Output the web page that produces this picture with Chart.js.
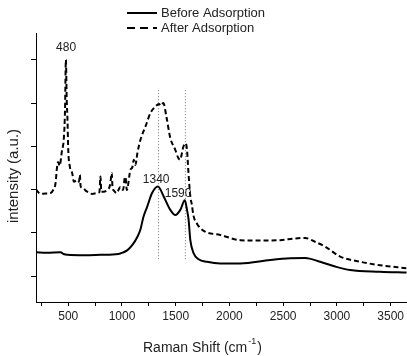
<!DOCTYPE html>
<html>
<head>
<meta charset="utf-8">
<script src="https://cdn.jsdelivr.net/npm/chart.js@4"></script>
<style>
html, body { margin: 0; padding: 0; background: #fff; }
canvas { display: block; }
</style>
</head>
<body>
<canvas id="ramanChart" width="407" height="356"></canvas>
<script>
// Raman spectra (intensity in arbitrary units)
var beforeShift = [200, 300, 430, 456, 493, 650, 800, 967, 1005, 1051, 1097, 1144, 1171, 1200, 1234, 1280, 1335, 1388, 1450, 1497,
    1543, 1585, 1605, 1620, 1636, 1666, 1713, 1791, 1915, 2100, 2380, 2565, 2705, 2844, 2984, 3123, 3402, 3650];
var beforeIntensity = [0.55, 0.54, 0.55, 0.51, 0.49, 0.48, 0.49, 0.51, 0.54, 0.60, 0.72, 0.91, 1.07, 1.37, 1.60, 1.92, 2.07, 1.84, 1.53, 1.41,
    1.53, 1.75, 1.53, 1.30, 0.83, 0.53, 0.39, 0.33, 0.29, 0.29, 0.37, 0.41, 0.42, 0.33, 0.22, 0.14, 0.10, 0.08];

var afterShift = [200, 243, 290, 336, 360, 382, 395, 405, 420, 440, 460, 470, 478, 486, 493, 500, 515, 537, 552, 584,
    600, 608, 615, 630, 676, 723, 769, 790, 800, 808, 830, 860, 890, 905, 912, 920, 950, 985, 1010, 1028,
    1034, 1045, 1078, 1097, 1110, 1125, 1144, 1172, 1219, 1265, 1311, 1345, 1360, 1385, 1413, 1450, 1496, 1524, 1540, 1571,
    1592, 1605, 1617, 1636, 1651, 1664, 1701, 1757, 1915, 2101, 2287, 2473, 2612, 2705, 2798, 2891, 3030, 3216, 3402, 3650];
var afterIntensity = [2.00, 1.90, 1.91, 1.92, 1.99, 2.15, 2.50, 2.64, 2.55, 2.87, 3.22, 3.84, 5.00, 4.07, 3.61, 2.92, 2.53, 2.38, 2.18, 2.22,
    2.18, 2.34, 2.08, 2.04, 1.95, 1.90, 1.92, 1.94, 2.30, 1.95, 1.95, 1.99, 2.11, 2.38, 2.04, 1.99, 1.92, 2.06, 1.99, 2.29,
    2.27, 1.99, 2.45, 2.52, 2.69, 2.57, 2.85, 3.15, 3.46, 3.77, 3.92, 3.98, 3.94, 4.00, 3.69, 3.19, 2.92, 2.73, 2.69, 2.99,
    3.07, 2.92, 2.45, 1.84, 1.64, 1.41, 1.20, 1.05, 0.95, 0.83, 0.82, 0.83, 0.87, 0.88, 0.79, 0.68, 0.45, 0.33, 0.25, 0.18];

// dotted guide lines at the D and G bands
var guideShift = [1340, 1590];
var guideRange = [0.39, 4.35];

// peak labels
var peakText = ['480', '1340', '1590'];
var peakShift = [480, 1318, 1522];
var peakLevel = [5.28, 2.22, 1.90];

var xTicks = [250, 500, 750, 1000, 1250, 1500, 1750, 2000, 2250, 2500, 2750, 3000, 3250, 3500];
var yTicks = [0, 1, 2, 3, 4, 5];

var fontFamily = '"Liberation Sans", Arial, sans-serif';

function toPoints(xs, ys) {
    return xs.map(function(x, i) { return { x: x, y: ys[i] }; });
}

var guideSets = guideShift.map(function(s) {
    return {
        data: [{ x: s, y: guideRange[0] }, { x: s, y: guideRange[1] }],
        borderColor: '#777',
        borderWidth: 1,
        borderDash: [1, 2],
        pointRadius: 0
    };
});

// legend, peak labels and the axis titles are drawn here
var extras = {
    id: 'extras',
    afterDraw: function(chart) {
        var ctx = chart.ctx;
        var xs = chart.scales.x, ys = chart.scales.y;
        ctx.save();
        ctx.fillStyle = '#222';

        // legend
        ctx.strokeStyle = '#000';
        ctx.lineWidth = 2;
        ctx.font = '13px ' + fontFamily;
        ctx.textBaseline = 'middle';
        ctx.textAlign = 'left';
        ctx.setLineDash([]);
        ctx.beginPath(); ctx.moveTo(127, 13); ctx.lineTo(157, 13); ctx.stroke();
        ctx.fillText('Before Adsorption', 161, 13);
        ctx.setLineDash([8, 5]);
        ctx.beginPath(); ctx.moveTo(127, 28); ctx.lineTo(157, 28); ctx.stroke();
        ctx.setLineDash([]);
        ctx.fillText('After Adsorption', 161, 28);

        // peak labels
        ctx.font = '12px ' + fontFamily;
        ctx.textAlign = 'center';
        peakText.forEach(function(t, i) {
            ctx.fillText(t, xs.getPixelForValue(peakShift[i]), ys.getPixelForValue(peakLevel[i]));
        });

        // y axis title
        ctx.save();
        ctx.translate(14, 176);
        ctx.rotate(-Math.PI / 2);
        ctx.font = '15px ' + fontFamily;
        ctx.fillText('intensity (a.u.)', 0, 0);
        ctx.restore();

        // x axis title with superscript
        var main = 'Raman Shift (cm';
        ctx.textAlign = 'left';
        ctx.font = '14px ' + fontFamily;
        var x0 = 143, y0 = 348;
        ctx.fillText(main, x0, y0);
        var w = ctx.measureText(main).width;
        ctx.font = '9px ' + fontFamily;
        ctx.fillText('-1', x0 + w + 1, y0 - 6);
        var w2 = ctx.measureText('-1').width;
        ctx.font = '14px ' + fontFamily;
        ctx.fillText(')', x0 + w + w2 + 2, y0);
        ctx.restore();
    }
};

new Chart(document.getElementById('ramanChart'), {
    type: 'line',
    data: {
        datasets: [{
            label: 'Before Adsorption',
            data: toPoints(beforeShift, beforeIntensity),
            borderColor: '#000',
            borderWidth: 2,
            pointRadius: 0,
            cubicInterpolationMode: 'monotone'
        }, {
            label: 'After Adsorption',
            data: toPoints(afterShift, afterIntensity),
            borderColor: '#000',
            borderWidth: 2,
            borderDash: [5, 3],
            pointRadius: 0,
            cubicInterpolationMode: 'monotone'
        }].concat(guideSets)
    },
    options: {
        responsive: false,
        animation: false,
        layout: { padding: { top: 33, left: 0, right: 0, bottom: 0 } },
        plugins: { legend: { display: false }, tooltip: { enabled: false } },
        scales: {
            x: {
                type: 'linear',
                min: 200,
                max: 3650,
                afterBuildTicks: function(s) { s.ticks = xTicks.map(function(v) { return { value: v }; }); },
                afterFit: function(s) { s.height = 54; },
                ticks: {
                    autoSkip: false,
                    maxRotation: 0,
                    padding: 3,
                    color: '#222',
                    font: { size: 12, family: fontFamily },
                    callback: function(v) { return v % 500 === 0 ? v : ''; }
                },
                grid: { drawOnChartArea: false, tickLength: 4, color: '#000' },
                border: { color: '#000', width: 1 }
            },
            y: {
                min: -0.6,
                max: 5.62,
                afterBuildTicks: function(s) { s.ticks = yTicks.map(function(v) { return { value: v }; }); },
                afterFit: function(s) { s.width = 36; },
                ticks: { display: false },
                grid: { drawOnChartArea: false, tickLength: 5, color: '#000' },
                border: { color: '#000', width: 1 }
            }
        }
    },
    plugins: [extras]
});
</script>
</body>
</html>
